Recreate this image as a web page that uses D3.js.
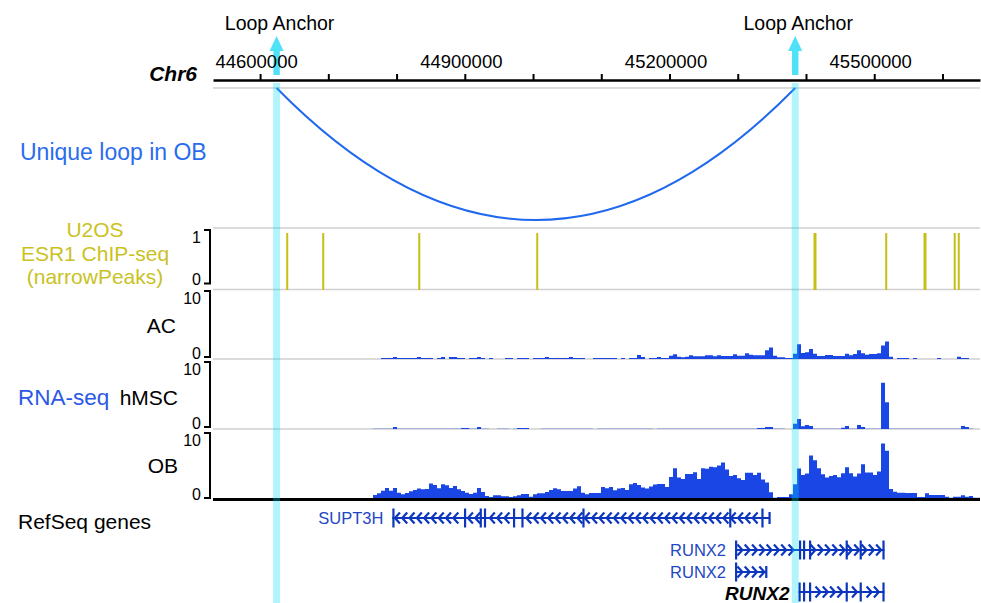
<!DOCTYPE html>
<html>
<head>
<meta charset="utf-8">
<script src="https://cdn.jsdelivr.net/npm/d3@7"></script>
<style>
body { margin: 0; background: #fff; }
svg text { font-family: "Liberation Sans", Arial, sans-serif; }
</style>
</head>
<body>
<div id="chart"></div>
<script>
// browser view of the RUNX2 / SUPT3H locus on chr6

var chromName = "Chr6";
var chromStart = 44531000;
var chromEnd = 45655000;
var tickStep = 100000;
var tickLabels = [44600000, 44900000, 45200000, 45500000];

// loop anchors (bp)
var loopAnchors = [44624200, 45384200];
var loopLabel = "Unique loop in OB";

// ESR1 narrowPeaks [start, end]
var esr1Peaks = [
    [44638300, 44640500], [44691100, 44693300], [44831800, 44834000],
    [45004700, 45006900], [45411000, 45415400], [45516100, 45518300],
    [45572200, 45576600], [45616500, 45618700], [45622400, 45624600]
];

// bigwig signal, fixed bins from binStart
var binStart = 44531000;
var binSize = 5862;

var acValues = [
    0,0,0,0,0,0,0,0,0,0, 0,0,0,0,0,0,0,0,0,0, 0,0,0,0,0,0,0,0,0,0, 0,0,0,0,0,0,0,0,0,0,
    0,0,0.15,0.15,0.15,0.3,0.15,0.15,0.15,0.15,
    0.15,0.3,0.15,0.15,0.15,0,0.15,0.3,0,0.3,
    0.3,0.15,0.15,0,0.15,0.15,0.3,0.15,0,0.15,
    0,0,0,0.15,0.15,0,0.15,0.15,0.15,0,
    0.15,0.15,0.15,0.3,0.15,0.15,0.15,0.15,0.15,0.3,
    0.15,0.15,0.15,0,0,0.15,0.15,0.15,0.15,0.15,
    0.15,0,0.15,0,0.15,0.15,0.6,0.3,0,0.15,
    0.15,0.3,0.15,0.15,0.5,0.7,0.35,0.25,0.35,0.55,
    0.4,0.4,0.4,0.55,0.55,0.4,0.55,0.45,0.45,0.45,
    0.7,0.5,0.5,0.85,0.65,0.55,0.55,0.55,1.3,1.7,
    0.5,0.25,0.25,0.15,0.15,0.8,2.2,0.9,1.0,1.5,
    0.8,0.45,0.45,0.6,0.6,0.45,0.45,0.45,0.8,0.55,
    0.75,1.3,0.85,0.65,0.75,0.75,0.85,2.0,2.6,0.35,
    0,0.15,0.15,0.15,0,0.15,0,0,0,0,
    0,0.15,0,0,0,0,0.35,0.15,0.15,0,
    0,0
];

var hmscValues = [
    0,0,0,0,0,0,0,0,0,0, 0,0,0,0,0,0,0,0,0,0, 0,0,0,0,0,0,0,0,0,0, 0,0,0,0,0,0,0,0,0,0,
    0.05,0.05,0.05,0.05,0.05,0.3,0.05,0.05,0.05,0.05,
    0.05,0.05,0.05,0.05,0.05,0.05,0.05,0.05,0.05,0.05,
    0.05,0.05,0.15,0.15,0.05,0.05,0.3,0.05,0.05,0,
    0,0.05,0.05,0.05,0,0.05,0.15,0.15,0.15,0,
    0,0,0.05,0.05,0.05,0.05,0.05,0.05,0.05,0.05,
    0.05,0.05,0.05,0.05,0.05,0,0.05,0.05,0.05,0.05,
    0.05,0.05,0.05,0.05,0.05,0.05,0.05,0.05,0.05,0.05,
    0,0.05,0.05,0.05,0.05,0.05,0.05,0.05,0.05,0.05,
    0.05,0.05,0.05,0.05,0.05,0.05,0.05,0.05,0.05,0.05,
    0.05,0.05,0.05,0.05,0.05,0.05,0.15,0.15,0.3,0.3,
    0.05,0.05,0.05,0,0,0.8,1.5,0.4,0.6,0.45,
    0.05,0.05,0.05,0.05,0.05,0.05,0.05,0.2,0.45,0.05,
    0.05,0.6,0.3,0.05,0.05,0.05,0.05,6.9,4.0,0.05,
    0.05,0.05,0.05,0.05,0.05,0.05,0.05,0.05,0.05,0.05,
    0.05,0.05,0.05,0.05,0.05,0.05,0.05,0.45,0.3,0.05,
    0,0
];

var obValues = [
    0,0,0,0,0,0,0,0,0,0, 0,0,0,0,0,0,0,0,0,0, 0,0,0,0,0,0,0,0,0,0,
    0,0,0.1,0.1,0.1,0.1,0.1,0.1,0.1,0.15,
    0.6,0.85,1.25,1.65,1.25,1.65,0.95,0.7,0.9,1.15,
    1.35,1.55,1.45,1.5,2.3,2.1,1.6,2.2,2.05,1.65,
    1.95,1.45,1.2,0.95,0.75,0.95,1.65,1.05,0.45,0.3,
    0.55,0.55,0.4,0.4,0.3,0.4,0.55,0.75,0.75,0.35,
    0.7,0.85,0.85,1.05,1.35,1.6,1.45,1.2,1.2,1.2,
    1.55,1.9,0.95,0.7,0.9,0.9,0.9,1.8,1.6,1.8,
    1.3,1.55,1.65,1.35,2.2,2.4,2.1,1.7,1.55,1.85,
    2.15,2.25,2.25,1.8,3.3,4.6,3.2,3.0,3.75,3.75,
    4.0,3.0,4.6,4.5,4.8,4.75,5.0,5.45,4.4,3.45,
    3.6,3.1,2.85,3.9,3.9,3.6,3.9,2.9,2.45,1.0,
    0.2,0.3,0.3,0.3,0.7,2.2,4.55,3.6,3.8,6.5,
    5.8,4.6,3.7,3.2,3.45,3.6,3.25,3.85,4.75,3.85,
    3.35,3.8,5.2,3.95,3.95,3.6,4.1,8.3,7.2,1.5,
    1.1,0.95,0.95,0.9,0.9,0.9,0.3,0.3,0.85,0.6,
    0.6,0.6,0.6,0.35,0.2,0.35,0.35,0.55,0.35,0.45,
    0.2,0.2
];

// refseq genes, exons as [start, end, kind]
var genes = [
    {name: "SUPT3H", row: 0, strand: "-", start: 44793800, end: 45346200,
     exons: [[44793800,44795600,"cds"],[44898800,44900300,"cds"],[44921800,44923000,"cds"],
	     [44928000,44929200,"cds"],[44970600,44971800,"cds"],[44982900,44984000,"cds"],
	     [45072300,45073500,"cds"],[45287400,45289800,"cds"],[45334600,45335800,"cds"],
	     [45345000,45346200,"utr"]]},
    {name: "RUNX2", row: 1, strand: "+", start: 45296000, end: 45514800,
     exons: [[45296000,45297200,"cds"],[45389700,45390900,"cds"],[45395600,45396700,"cds"],
	     [45404400,45405500,"cds"],[45458100,45459200,"cds"],[45478600,45479700,"cds"],
	     [45512000,45514800,"cds"]]},
    {name: "RUNX2", row: 2, strand: "+", start: 45296000, end: 45341400,
     exons: [[45296000,45297200,"cds"],[45340200,45341400,"utr"]]},
    {name: "RUNX2", row: 3, strand: "+", start: 45389000, end: 45514800, main: true,
     exons: [[45389000,45390400,"cds"],[45395600,45396700,"cds"],[45404400,45405500,"cds"],
	     [45458100,45459200,"cds"],[45478600,45479700,"cds"],[45512000,45514800,"cds"]]}
];


var signalColor = "#1a46e5";
var geneColor = "#0c36bd";
var esrColor = "#c6bf16";
var W = 981, H = 603;

var svg = d3.select("#chart").append("svg")
    .attr("width", W)
    .attr("height", H);

var x = d3.scaleLinear()
    .domain([chromStart, chromEnd])
    .range([213, 980]);

var lineLayer = svg.append("g");
var dataLayer = svg.append("g");
var geneLayer = svg.append("g");
var bandLayer = svg.append("g");
var textLayer = svg.append("g");

// gray separators
[88, 228, 289.5, 359, 429].forEach(function(y){
    lineLayer.append("line")
	.attr("x1", 213).attr("x2", 980)
	.attr("y1", y).attr("y2", y)
	.attr("stroke", "#cfcfcf")
	.attr("stroke-width", 1.5);
});

// ruler
var axis = d3.axisTop(x)
    .tickValues(d3.range(44600000, chromEnd, tickStep))
    .tickSize(6)
    .tickSizeOuter(0)
    .tickPadding(6)
    .tickFormat(function(d){ return tickLabels.indexOf(d) >= 0 ? d : ""; });

var ax = svg.append("g")
    .attr("transform", "translate(0,80)")
    .call(axis);
ax.select(".domain").attr("stroke-width", 2.5);
ax.selectAll(".tick line").attr("stroke-width", 2);
ax.selectAll(".tick text")
    .attr("font-size", 18.5)
    .attr("dx", -4)
    .style("font-family", "Liberation Sans, Arial, sans-serif");

textLayer.append("text")
    .attr("x", 197).attr("y", 81)
    .attr("text-anchor", "end")
    .attr("font-size", 21)
    .attr("font-weight", "bold")
    .attr("font-style", "italic")
    .text(chromName);

// loop arc
var a0 = x(loopAnchors[0]), a1 = x(loopAnchors[1]);
dataLayer.append("path")
    .attr("d", "M" + a0 + ",88 Q" + ((a0 + a1) / 2) + ",352 " + a1 + ",88")
    .attr("fill", "none")
    .attr("stroke", "#2069ef")
    .attr("stroke-width", 2);

textLayer.append("text")
    .attr("x", 20).attr("y", 160)
    .attr("font-size", 23)
    .attr("fill", "#2a6cee")
    .text(loopLabel);

// ESR1 peaks
var yEsr = d3.scaleLinear().domain([0, 1]).range([290, 233]);
dataLayer.selectAll("rect.peak")
    .data(esr1Peaks)
    .enter().append("rect")
    .attr("class", "peak")
    .attr("x", function(d){ return x(d[0]); })
    .attr("width", function(d){ return Math.max(2, x(d[1]) - x(d[0])); })
    .attr("y", yEsr(1))
    .attr("height", yEsr(0) - yEsr(1))
    .attr("fill", esrColor);

var drawSignal = function(values, base){
    var y = d3.scaleLinear().domain([0, 10]).range([base, base - 67]);
    var pts = values.map(function(v, i){ return [binStart + i * binSize, v]; });
    pts.push([binStart + values.length * binSize, values[values.length - 1]]);
    var area = d3.area()
	.x(function(d){ return Math.min(980, x(d[0])); })
	.y0(base)
	.y1(function(d){ return y(d[1]); })
	.curve(d3.curveStepAfter);
    dataLayer.append("path")
	.attr("d", area(pts))
	.attr("fill", signalColor);
};

drawSignal(acValues, 359);
drawSignal(hmscValues, 429);
drawSignal(obValues, 499);

// bottom black line of OB track
dataLayer.append("line")
    .attr("x1", 213).attr("x2", 980)
    .attr("y1", 499.5).attr("y2", 499.5)
    .attr("stroke", "#000")
    .attr("stroke-width", 3);

// y brackets
var drawBracket = function(top, bottom, hi, lo){
    textLayer.append("path")
	.attr("d", "M204," + top + "H210V" + bottom + "H204")
	.attr("fill", "none")
	.attr("stroke", "#000")
	.attr("stroke-width", 2);
    textLayer.append("text")
	.attr("x", 201).attr("y", top + 13)
	.attr("text-anchor", "end")
	.attr("font-size", 16)
	.text(hi);
    textLayer.append("text")
	.attr("x", 201).attr("y", bottom + 1.5)
	.attr("text-anchor", "end")
	.attr("font-size", 16)
	.text(lo);
};

drawBracket(230, 283.5, "1", "0");
drawBracket(291, 357, "10", "0");
drawBracket(362, 427, "10", "0");
drawBracket(433, 498, "10", "0");

// track labels
["U2OS", "ESR1 ChIP-seq", "(narrowPeaks)"].forEach(function(t, i){
    textLayer.append("text")
	.attr("x", 95).attr("y", 237 + i * 23.7)
	.attr("text-anchor", "middle")
	.attr("font-size", 21)
	.attr("fill", "#c9c21f")
	.text(t);
});

textLayer.append("text").attr("x", 176).attr("y", 333)
    .attr("text-anchor", "end").attr("font-size", 21).text("AC");
textLayer.append("text").attr("x", 18).attr("y", 405)
    .attr("font-size", 22.5).attr("fill", "#2b59e6").text("RNA-seq");
textLayer.append("text").attr("x", 178).attr("y", 405)
    .attr("text-anchor", "end").attr("font-size", 21).text("hMSC");
textLayer.append("text").attr("x", 178).attr("y", 473)
    .attr("text-anchor", "end").attr("font-size", 21).text("OB");
textLayer.append("text").attr("x", 18).attr("y", 529)
    .attr("font-size", 21).text("RefSeq genes");

// genes
var rowY = [518, 550, 572, 592];

genes.forEach(function(g){
    var cy = rowY[g.row];
    var gx0 = x(g.start), gx1 = x(g.end);

    geneLayer.append("line")
	.attr("x1", gx0).attr("x2", gx1)
	.attr("y1", cy).attr("y2", cy)
	.attr("stroke", geneColor)
	.attr("stroke-width", 2);

    var exonX = [];
    g.exons.forEach(function(e){
	var ex = x(e[0]);
	var w = Math.max(2.2, x(e[1]) - x(e[0]));
	var h = e[2] == "cds" ? 19 : 12;
	exonX.push(ex + w / 2);
	geneLayer.append("rect")
	    .attr("x", ex).attr("width", w)
	    .attr("y", cy - h / 2).attr("height", h)
	    .attr("fill", geneColor);
    });

    // strand chevrons
    var dir = g.strand == "+" ? 1 : -1;
    for(var cx = gx0 + 5; cx < gx1 - 3; cx += 7.3){
	var near = exonX.some(function(v){ return Math.abs(v - cx) < 2.5; });
	if(near) continue;
	geneLayer.append("path")
	    .attr("d", "M" + (cx - 2.6 * dir) + "," + (cy - 5.5) + "L" + (cx + 2.4 * dir) + "," + cy + "L" + (cx - 2.6 * dir) + "," + (cy + 5.5))
	    .attr("fill", "none")
	    .attr("stroke", geneColor)
	    .attr("stroke-width", 2.2);
    }

    var label = textLayer.append("text")
	.attr("x", gx0 - 9)
	.attr("text-anchor", "end")
	.text(g.name);
    if(g.main){
	label.attr("y", cy + 8).attr("font-size", 19)
	    .attr("font-weight", "bold").attr("font-style", "italic")
	    .attr("fill", "#000");
    }else{
	label.attr("y", cy + 6).attr("font-size", 16.5)
	    .attr("fill", "#2346c4");
    }
});

// loop anchor highlight bands and arrows
loopAnchors.forEach(function(a){
    var cx = x(a);
    bandLayer.append("rect")
	.attr("x", cx - 3.5).attr("width", 7)
	.attr("y", 83).attr("height", H - 83)
	.attr("fill", "#00dcf5")
	.attr("fill-opacity", 0.3);
    bandLayer.append("rect")
	.attr("x", cx - 3.2).attr("width", 6.4)
	.attr("y", 49).attr("height", 26)
	.attr("fill", "#4de2f7");
    bandLayer.append("path")
	.attr("d", "M" + (cx - 7) + ",51L" + cx + ",36L" + (cx + 7) + ",51Z")
	.attr("fill", "#4de2f7");
    textLayer.append("text")
	.attr("x", cx + 3).attr("y", 30)
	.attr("text-anchor", "middle")
	.attr("font-size", 19.5)
	.text("Loop Anchor");
});

</script>
</body>
</html>
